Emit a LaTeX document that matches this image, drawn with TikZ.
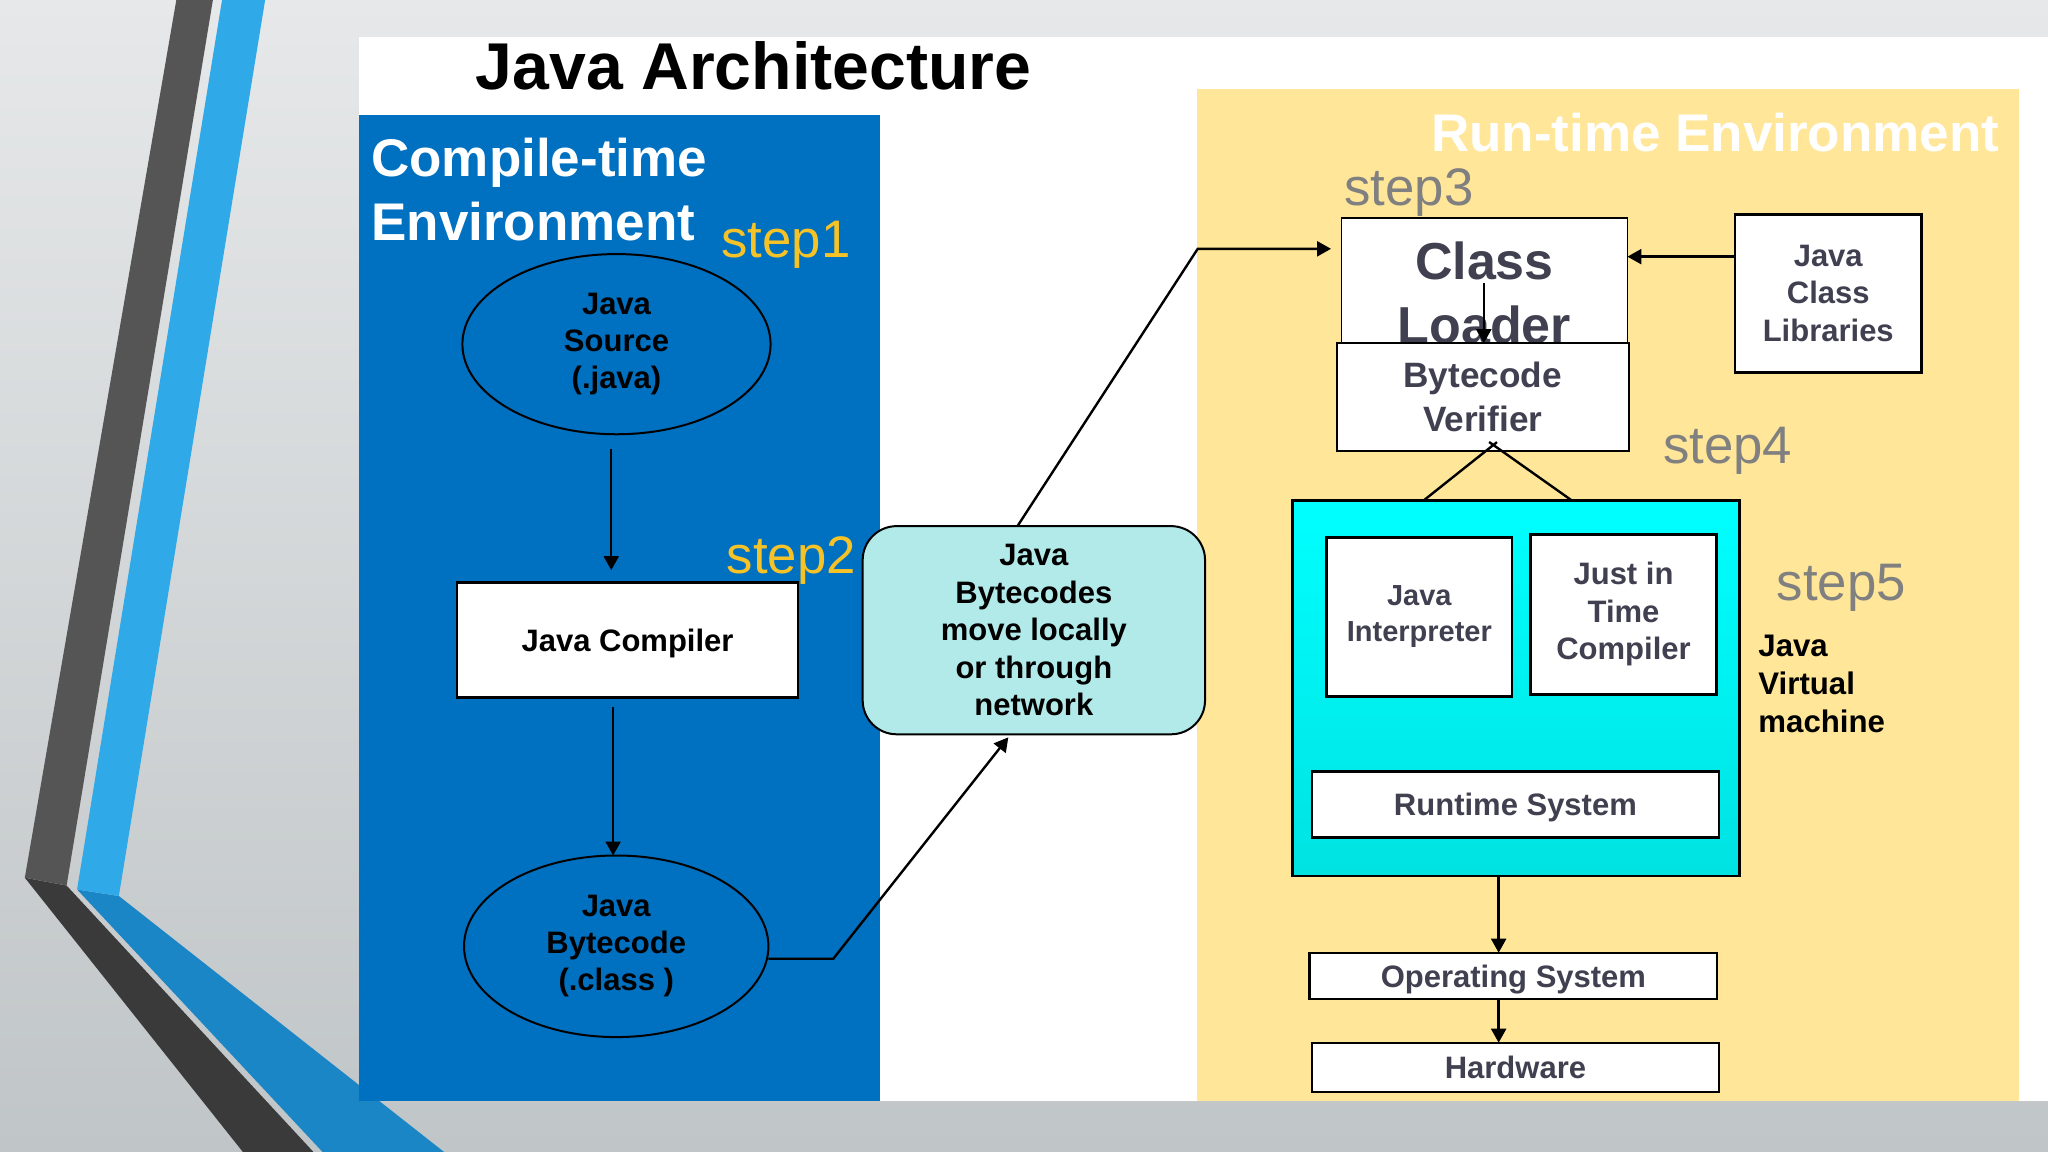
\documentclass[tikz,border=0pt]{standalone}
\usepackage{fontspec}
\setmainfont{Liberation Sans}
\usetikzlibrary{shapes.geometric,arrows.meta,calc}
\definecolor{bgtop}{RGB}{230,232,233}
\definecolor{bgbot}{RGB}{192,197,199}
\definecolor{darkstripe}{RGB}{85,85,85}
\definecolor{darkarm}{RGB}{58,58,58}
\definecolor{bluestripe}{RGB}{47,169,231}
\definecolor{bluearm}{RGB}{26,134,198}
\definecolor{ctblue}{RGB}{0,112,192}
\definecolor{rtyellow}{RGB}{255,230,153}
\definecolor{netcyan}{RGB}{178,234,234}
\definecolor{jvmtop}{RGB}{0,255,255}
\definecolor{jvmbot}{RGB}{0,226,226}
\definecolor{stepgold}{RGB}{245,194,40}
\definecolor{stepgray}{RGB}{128,128,128}
\definecolor{slate}{RGB}{64,64,80}
\begin{document}
\begin{tikzpicture}[x=0.6531pt,y=-0.6531pt,
  arr/.style={draw=black, line width=1.2pt, -{Triangle[length=7pt,width=7.5pt]}},
  plain/.style={draw=black, line width=1.2pt},
  wbox/.style={rectangle, draw=black, fill=white, inner sep=0pt, outer sep=0pt, align=center, line width=1.3pt},
  oneline/.style={text height=11.2pt, text depth=0pt},
  thinbox/.style={wbox, line width=0.9pt},
  ell/.style={ellipse, draw=black, fill=ctblue, line width=1pt, inner sep=0pt, outer sep=0pt, align=center,
    font=\bfseries\fontsize{15.5}{18.5}\selectfont},
  stepy/.style={text=stepgold, inner sep=0pt, font=\fontsize{26.4}{30}\selectfont},
  stepg/.style={text=stepgray, inner sep=0pt, font=\fontsize{26.4}{30}\selectfont},
  boxtxt/.style={font=\bfseries\fontsize{15.5}{18.7}\selectfont},
  slatetxt/.style={text=slate, font=\bfseries\fontsize{15.5}{18.7}\selectfont}
]
\useasboundingbox (0,0) rectangle (1568,882);
% background
\shade[top color=bgtop, bottom color=bgbot] (0,0) rectangle (1568,882);
% decorative stripes
\fill[darkarm] (19,672) -- (51,678) -- (240,882) -- (186,882) -- cycle;
\fill[darkstripe] (135,0) -- (163,0) -- (51,678) -- (19,672) -- cycle;
\fill[bluearm] (59,681) -- (91,686) -- (340,882) -- (247,882) -- cycle;
\fill[bluestripe] (170,0) -- (203,0) -- (91,686) -- (59,681) -- cycle;
% slide and panels
\fill[white] (275,28) rectangle (1568,843);
\fill[ctblue] (275,88) rectangle (673.5,843);
\fill[rtyellow] (916.5,68) rectangle (1546,843);

% headings
\node[font=\bfseries\fontsize{33.1}{40}\selectfont, anchor=base west, inner sep=0pt] (title) at (364,68.4) {Java Architecture};
\node[font=\bfseries\fontsize{26.5}{31.7}\selectfont, text=white, align=left, anchor=west, inner sep=0pt] (cthead) at (284,145) {Compile-time\\Environment};
\node[font=\bfseries\fontsize{26.5}{30}\selectfont, text=white, anchor=base east, inner sep=0pt] (rthead) at (1531,116) {Run-time Environment};

% step labels
\node[stepy, anchor=base west] (s1) at (552,197) {step1};
\node[stepy, anchor=base west] (s2) at (556,439) {step2};
\node[stepg, anchor=base west] (s3) at (1029,157) {step3};
\node[stepg, anchor=base west] (s4) at (1273,355) {step4};
\node[stepg, anchor=base west] (s5) at (1360,460) {step5};

% compile-time side
\node[ell, minimum width=154.1pt, minimum height=90.1pt] (src) at (472,263.5) {Java\\Source\\(.java)};
\node[wbox, boxtxt, oneline, minimum width=170.5pt, minimum height=57.5pt] (comp) at (480.5,490) {Java Compiler};
\node[ell, minimum width=152.2pt, minimum height=90.8pt] (bc) at (471.8,724.5) {Java\\Bytecode\\(.class )};

% network box
\node[draw=black, fill=netcyan, line width=1pt, rounded corners=17pt, inner sep=0pt, outer sep=0pt,
  align=center, boxtxt, minimum width=171.2pt, minimum height=104.1pt] (net) at (791.55,482.5)
  {Java\\Bytecodes\\move locally\\or through\\network};

% run-time side
\node[thinbox, text=slate, font=\bfseries\fontsize{26}{32}\selectfont, minimum width=143pt, minimum height=74.5pt] (cl) at (1136.5,224) {Class\\Loader};
\node[thinbox, text=slate, font=\bfseries\fontsize{17.6}{22}\selectfont, minimum width=146pt, minimum height=53.7pt] (verif) at (1135.25,303.9) {Bytecode\\Verifier};
\node[wbox, slatetxt, minimum width=93.1pt, minimum height=79.2pt] (libs) at (1399.75,224.65) {Java\\Class\\Libraries};
\node[draw=black, line width=1.4pt, top color=jvmtop, bottom color=jvmbot, inner sep=0pt, outer sep=0pt,
  minimum width=223.5pt, minimum height=187.7pt] (jvm) at (1160.5,527) {};
\node[wbox, text=slate, font=\bfseries\fontsize{14.5}{18}\selectfont, minimum width=92.6pt, minimum height=79.7pt] (interp) at (1086.7,472.4) {Java\\Interpreter};
\node[wbox, slatetxt, minimum width=92.9pt, minimum height=80pt] (jit) at (1243,470.35) {Just in\\Time\\Compiler};
\node[wbox, slatetxt, oneline, minimum width=203.4pt, minimum height=32.9pt] (rts) at (1160.25,615.95) {Runtime System};
\node[wbox, slatetxt, oneline, line width=1.1pt, minimum width=203.9pt, minimum height=23.2pt] (os) at (1158.7,747.15) {Operating System};
\node[wbox, slatetxt, oneline, line width=1.1pt, minimum width=203.4pt, minimum height=24.7pt] (hw) at (1160.25,817.2) {Hardware};
\node[font=\bfseries\fontsize{15.6}{18.9}\selectfont, align=left, anchor=west, inner sep=0pt] (jvmlabel) at (1346,523.4) {Java\\Virtual\\machine};

% connectors
\coordinate (ax1) at (468,0);
\coordinate (ax2) at (469.4,0);
\draw[arr, shorten <=7.5pt, shorten >=6.2pt] (src.south -| ax1) -- (comp.north -| ax1);
\draw[arr, shorten <=4.6pt] (comp.south -| ax2) -- (bc.north -| ax2);

\coordinate (bend1) at (638,734);
\coordinate (netin) at (772,564.5);
\draw[arr] (bc.east |- bend1) -- (bend1) -- (netin);

\coordinate (netout) at (779,0);
\coordinate (bend2) at (917,190.5);
\draw[arr, shorten >=5.2pt] (net.north -| netout) -- (bend2) -- (cl.west |- bend2);

\coordinate (liby) at (0,196.5);
\draw[arr] (libs.west |- liby) -- (cl.east |- liby);

\coordinate (clarr) at (1136,217);
\draw[arr] (clarr) -- (clarr |- verif.north);

\coordinate (lamL) at (1089.8,0);
\coordinate (lamR) at (1203.6,0);
\coordinate (apexL) at (1146.1,338.5);
\coordinate (apexR) at (1140.1,338.4);
\draw[plain] (jvm.north -| lamL) -- (apexL);
\draw[plain] (jvm.north -| lamR) -- (apexR);

\coordinate (ax3) at (1147.4,0);
\draw[arr] (jvm.south -| ax3) -- (os.north -| ax3);
\draw[arr] (os.south -| ax3) -- (hw.north -| ax3);
\end{tikzpicture}
\end{document}
